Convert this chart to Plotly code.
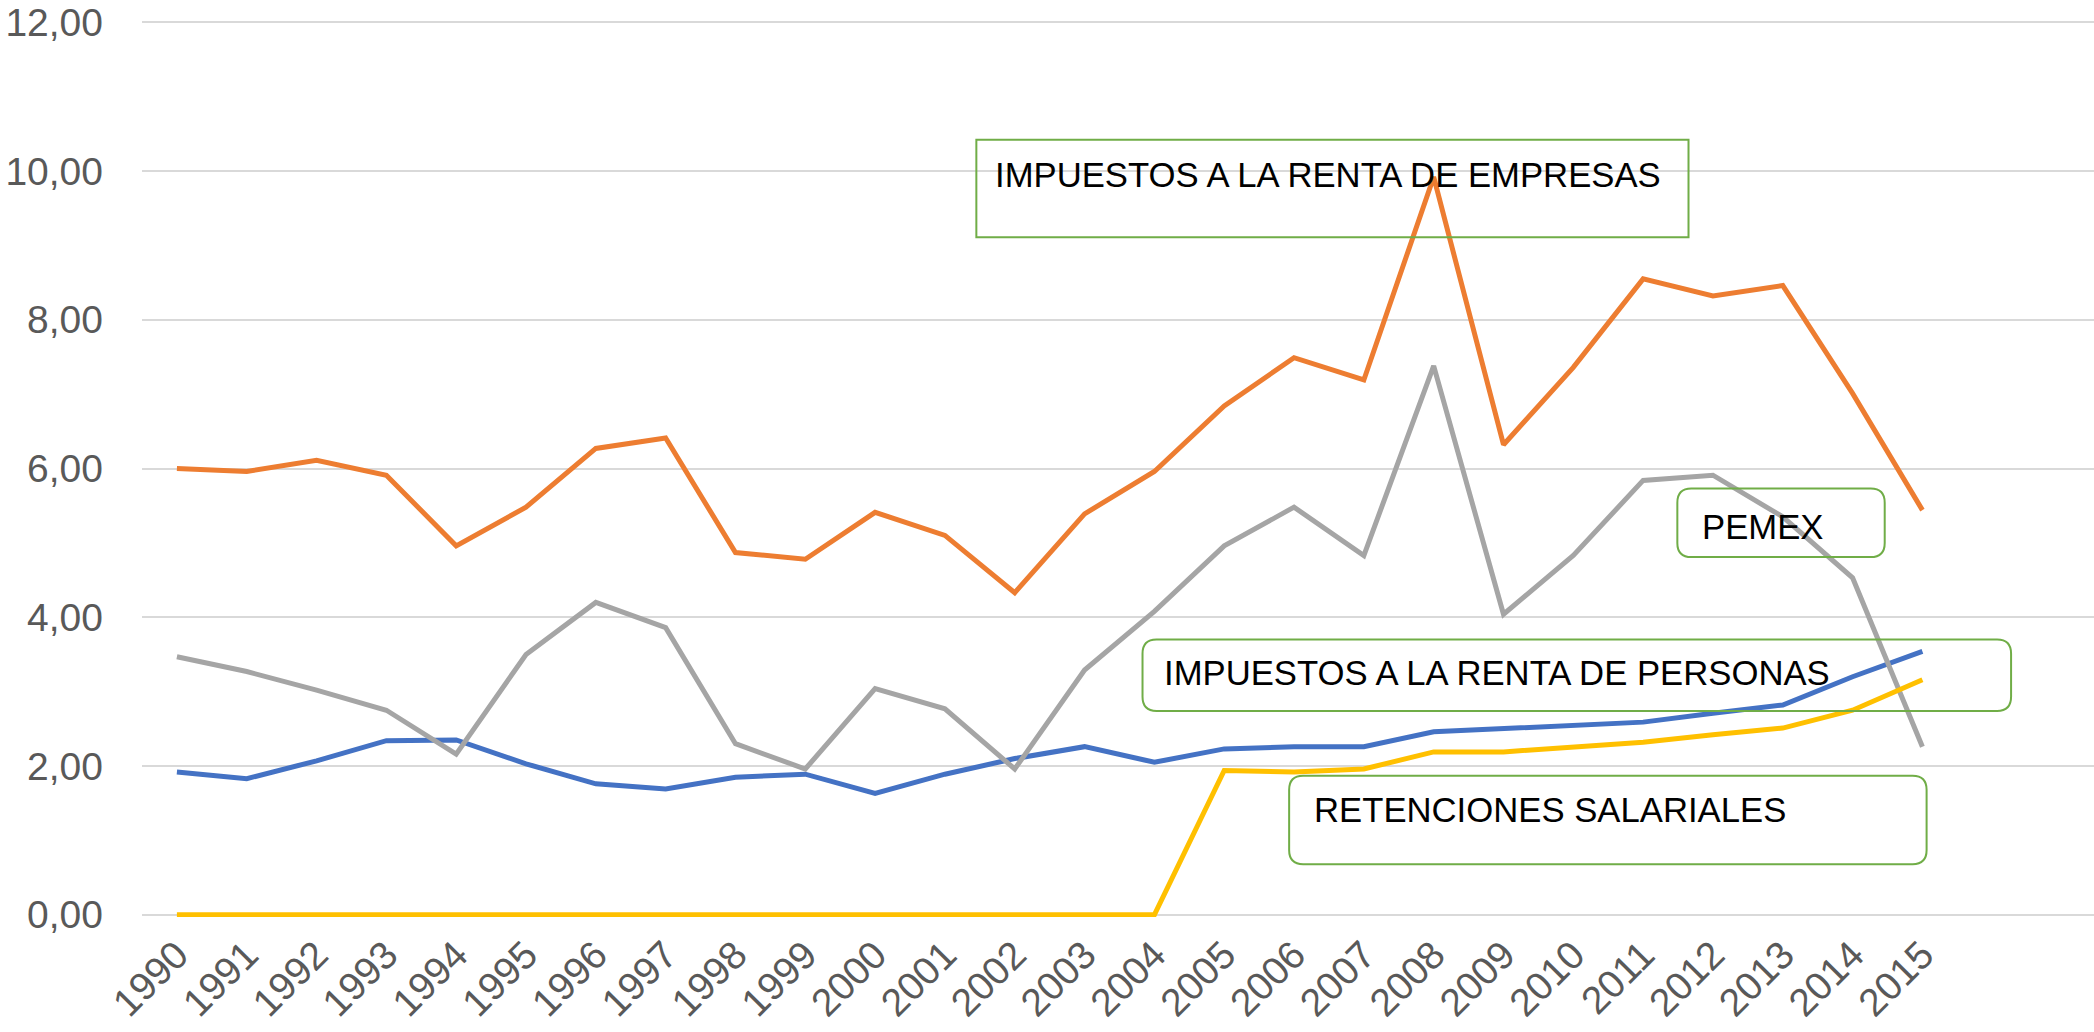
import plotly.graph_objects as go

years = list(range(1990, 2016))
year_labels = [str(y) for y in years]

renta_personas = [1.92, 1.83, 2.07, 2.34, 2.35, 2.03, 1.76, 1.69, 1.85, 1.89, 1.63, 1.89, 2.10,
                  2.26, 2.05, 2.23, 2.26, 2.26, 2.46, 2.50, 2.55, 2.59, 2.71, 2.82, 3.20, 3.54]
renta_empresas = [6.00, 5.96, 6.11, 5.91, 4.96, 5.48, 6.27, 6.41, 4.87, 4.78, 5.41, 5.10, 4.33,
                  5.39, 5.96, 6.84, 7.49, 7.19, 9.92, 6.32, 7.36, 8.55, 8.32, 8.46, 7.01, 5.44]
pemex = [3.47, 3.27, 3.02, 2.75, 2.16, 3.50, 4.20, 3.86, 2.30, 1.96, 3.04, 2.77, 1.96,
         3.29, 4.08, 4.96, 5.48, 4.83, 7.38, 4.04, 4.83, 5.84, 5.91, 5.35, 4.53, 2.26]
retenciones = [0, 0, 0, 0, 0, 0, 0, 0, 0, 0, 0, 0, 0, 0, 0,
               1.94, 1.92, 1.96, 2.19, 2.19, 2.25, 2.32, 2.42, 2.51, 2.75, 3.16]

series = [
    ("IMPUESTOS A LA RENTA DE PERSONAS", renta_personas, "#4472C4"),
    ("IMPUESTOS A LA RENTA DE EMPRESAS", renta_empresas, "#ED7D31"),
    ("PEMEX", pemex, "#A5A5A5"),
    ("RETENCIONES SALARIALES", retenciones, "#FFC000"),
]

# label boxes: (text, x0, x1, y_bottom, y_top, text_x, text_y, rounded)
boxes = [
    ("IMPUESTOS A LA RENTA DE EMPRESAS", 2001.45, 2011.65, 9.11, 10.42, 2001.69, 9.95, False),
    ("PEMEX", 2011.49, 2014.46, 4.81, 5.73, 2011.82, 5.22, True),
    ("IMPUESTOS A LA RENTA DE PERSONAS", 2003.83, 2016.27, 2.74, 3.70, 2004.11, 3.25, True),
    ("RETENCIONES SALARIALES", 2005.93, 2015.06, 0.68, 1.87, 2006.26, 1.41, True),
]

FONT = "'Liberation Sans', Arial, sans-serif"

W, H = 2094, 1032
ML, MT, MB = 142, 20, 115

fig = go.Figure()
for name, vals, color in series:
    fig.add_trace(go.Scatter(x=years, y=vals, mode="lines", name=name,
                             line=dict(color=color, width=5), showlegend=False))

rx, ry = 0.2, 0.19
for text, x0, x1, y0, y1, tx, ty, rounded in boxes:
    if rounded:
        path = (f"M {x0+rx},{y1} L {x1-rx},{y1} Q {x1},{y1} {x1},{y1-ry} "
                f"L {x1},{y0+ry} Q {x1},{y0} {x1-rx},{y0} L {x0+rx},{y0} "
                f"Q {x0},{y0} {x0},{y0+ry} L {x0},{y1-ry} Q {x0},{y1} {x0+rx},{y1} Z")
        fig.add_shape(type="path", path=path, xref="x", yref="y",
                      line=dict(color="#70AD47", width=2), layer="above")
    else:
        fig.add_shape(type="rect", x0=x0, x1=x1, y0=y0, y1=y1, xref="x", yref="y",
                      line=dict(color="#70AD47", width=2), layer="above")
    fig.add_annotation(x=tx, y=ty, xref="x", yref="y", text=text, showarrow=False,
                       xanchor="left", yanchor="middle",
                       font=dict(family=FONT, size=34.7, color="#000000"))

fig.update_layout(
    width=W, height=H,
    margin=dict(l=ML, r=0, t=MT, b=MB, autoexpand=False),
    paper_bgcolor="white", plot_bgcolor="white",
    separators=",.",
    font=dict(family=FONT, color="#595959"),
)
fig.update_xaxes(
    range=[1989.5, 1989.5 + (W - ML) / 69.82],
    tickmode="array", tickvals=years, ticktext=year_labels,
    tickangle=-45, tickfont=dict(size=39, color="#595959", family=FONT),
    showgrid=False, zeroline=False, showline=False, ticks="",
    ticklabelstandoff=6, automargin=False,
)
fig.update_yaxes(
    range=[-0.03, 12.03],
    tickmode="array", tickvals=[0, 2, 4, 6, 8, 10, 12],
    tickformat=".2f",
    tickfont=dict(size=39, color="#595959", family=FONT),
    showgrid=True, gridcolor="#D9D9D9", gridwidth=1.5,
    zeroline=False, showline=False, ticks="",
    ticklabelstandoff=38, automargin=False, ticklabeloverflow="allow",
)

fig.write_html(
    "out.html",
    config={"displayModeBar": False},
    post_script="document.body.style.margin='0';document.body.style.overflow='hidden';",
)
